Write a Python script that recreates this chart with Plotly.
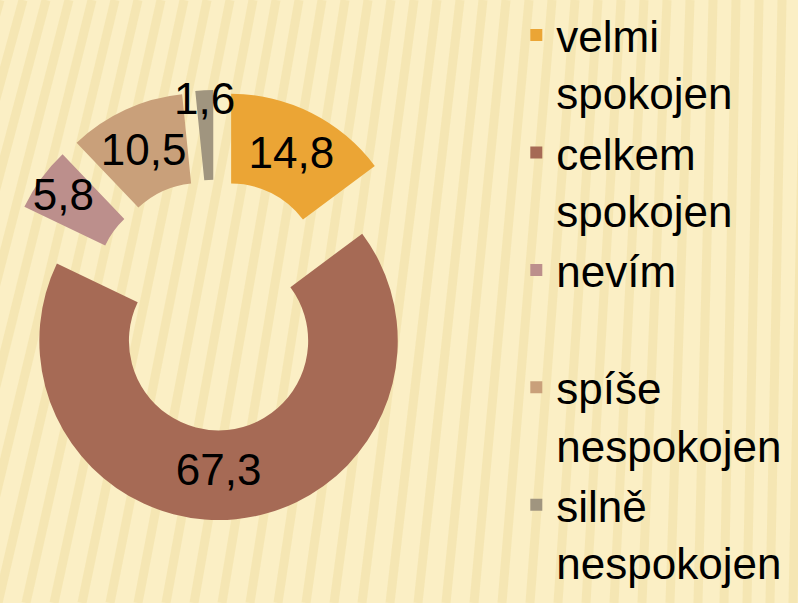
import plotly.graph_objects as go

labels = ["velmi<br>spokojen", "celkem<br>spokojen", "nevím<br>\u00a0", "spíše<br>nespokojen", "silně<br>nespokojen"]
values = [14.8, 67.3, 5.8, 10.5, 1.6]
colors = ["#EBA535", "#A66A55", "#BC8F8C", "#C9A07A", "#A0957F"]

fig = go.Figure()

fig.add_trace(
    go.Pie(
        labels=labels,
        values=values,
        sort=False,
        direction="clockwise",
        rotation=0,
        hole=0.5,
        pull=[0.2] * len(values),
        marker=dict(colors=colors, line=dict(width=0)),
        texttemplate="%{value:.1f}",
        textposition="inside",
        insidetextorientation="horizontal",
        textfont=dict(family="Liberation Sans, Arial", size=44, color="black"),
        domain=dict(x=[0, 0.539], y=[0, 0.988]),
        showlegend=True,
    )
)

# soft slanted stripes in the background
stripes = []
for i in range(-10, 42):
    xt = i * 23
    lean = max(12, 170 - i * 5)
    stripes.append(
        dict(
            type="line", xref="paper", yref="paper", layer="below",
            x0=(xt - lean) / 798, y0=0, x1=xt / 798, y1=1,
            line=dict(color="rgba(236,214,145,0.35)", width=9),
        )
    )

fig.update_layout(
    width=798,
    height=603,
    margin=dict(l=0, r=0, t=0, b=0),
    paper_bgcolor="#FBEFC5",
    plot_bgcolor="#FBEFC5",
    separators=", ",
    uniformtext=dict(minsize=44, mode="show"),
    shapes=stripes,
    font=dict(family="Liberation Sans, Arial", color="black"),
    legend=dict(
        x=0.647, y=1.0, xanchor="left", yanchor="top",
        valign="top",
        font=dict(size=44, color="black"),
        bgcolor="rgba(0,0,0,0)",
        tracegroupgap=0,
    ),
)

fig.write_html(
    "out.html",
    config={"displayModeBar": False},
    post_script="document.body.style.margin='0';",
)
